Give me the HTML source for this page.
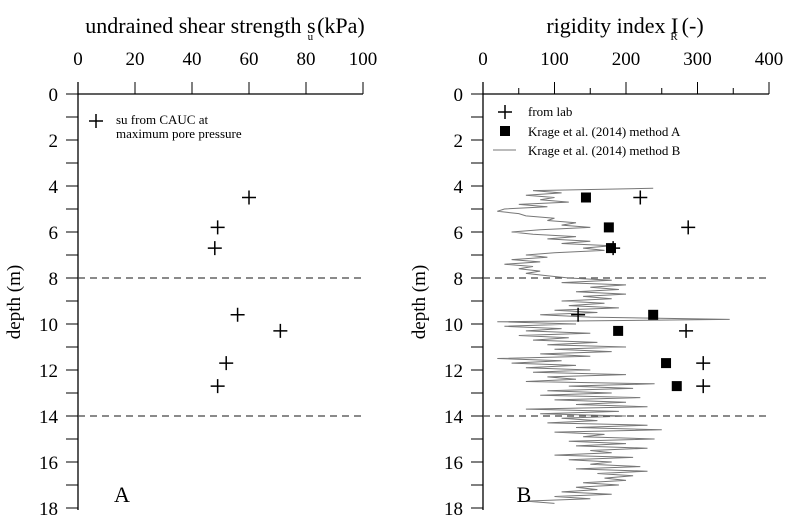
<!DOCTYPE html>
<html><head><meta charset="utf-8"><style>
body{margin:0;background:#fff}
svg, svg text{font-family:"Liberation Serif","Times New Roman",Times,"DejaVu Serif",serif}
</style></head><body>
<svg id="c" width="794" height="525" viewBox="0 0 794 525"></svg>
<script>
const suDepth=[4.5,5.8,6.7,9.6,10.3,11.7,12.7];
const suVal=[60,49,48,56,71,52,49];
const labDepth=[4.5,5.8,6.7,9.6,10.3,11.7,12.7];
const labVal=[220,287,182,133,284,308,308];
const aDepth=[4.5,5.8,6.7,9.6,10.3,11.7,12.7];
const aVal=[144,176,179,238,189,256,271];
const bStart=4.1, bStep=0.1;
const bVal=[238,70,110,60,100,80,120,50,90,
30,20,50,60,100,90,130,110,150,80,
40,70,130,90,150,110,180,140,170,100,
60,90,40,80,30,70,50,80,60,90,
120,180,110,200,150,190,130,200,140,180,
110,170,120,190,100,160,80,150,345,20,
130,30,110,60,150,50,120,70,160,90,
200,100,180,80,150,20,110,40,130,60,
150,70,200,90,130,60,240,120,210,90,
180,80,220,100,200,130,230,60,190,80,
200,110,160,90,230,130,250,100,170,140,
240,120,200,130,230,150,180,100,210,120,
180,150,220,130,230,160,210,170,200,140,
190,130,160,110,180,100,150,60,100];
const depthTicks=[0,2,4,6,8,10,12,14,16,18];
const suTicks=[0,20,40,60,80,100];
const irTicks=[0,100,200,300,400];
const dashDepths=[8,14];

const svg=document.getElementById('c');const NS='http://www.w3.org/2000/svg';
function mk(t,a,name,p){const e=document.createElementNS(NS,t);for(const k in a)e.setAttribute(k,a[k]);


(p||svg).appendChild(e);return e;}
function txt(s,x,y,size,anchor,name){const e=mk('text',{x:x,y:y,'font-size':size,'text-anchor':anchor||'middle'},name);e.textContent=s;return e;}
function title(x,main,sub,rest,name){const e=txt('',x,33,22,'middle',name);
  const a=document.createElementNS(NS,'tspan');a.textContent=main;e.appendChild(a);
  const b=document.createElementNS(NS,'tspan');b.setAttribute('font-size','11');b.setAttribute('dy','7');b.setAttribute('dx','-8');b.textContent=sub;e.appendChild(b);
  const c=document.createElementNS(NS,'tspan');c.setAttribute('dy','-7');c.setAttribute('dx','4');c.textContent=rest;e.appendChild(c);}
const y=d=>94+d*23;
function panel(x0,x1,max,ticks,minorStep,id){
  const sx=v=>x0+(x1-x0)*v/max;
  const g=mk('g',{},id+'-axes');
  mk('line',{x1:x0,y1:94,x2:x1,y2:94,stroke:'#000','stroke-width':1.3},'x-axis',g);
  mk('line',{x1:x0,y1:82,x2:x0,y2:510,stroke:'#000','stroke-width':1.3},'y-axis',g);
  ticks.forEach(t=>{mk('line',{x1:sx(t),y1:82,x2:sx(t),y2:94,stroke:'#000','stroke-width':1},'x-tick',g);
    txt(String(t),sx(t),65,19,'middle','x-tick-label');});
  if(minorStep)for(let v=minorStep;v<max;v+=2*minorStep)mk('line',{x1:sx(v),y1:88,x2:sx(v),y2:94,stroke:'#000','stroke-width':1},'x-minor-tick',g);
  for(let d=0;d<=18;d++)mk('line',{x1:x0-12,y1:y(d),x2:x0,y2:y(d),stroke:'#000','stroke-width':1},'y-tick',g);
  depthTicks.forEach(d=>txt(String(d),x0-20,y(d)+7,19,'end','y-tick-label'));
  dashDepths.forEach(d=>mk('line',{x1:x0,y1:y(d),x2:x1,y2:y(d),stroke:'#444','stroke-width':1.2,'stroke-dasharray':'7,5'},'layer-boundary',g));
  const t=txt('depth (m)',0,0,19,'middle','y-axis-title');t.setAttribute('transform',`translate(${x0-58},302) rotate(-90)`);
  return sx;
}
function plus(x,yy,name){mk('path',{d:`M${x-7},${yy}H${x+7}M${x},${yy-7}V${yy+7}`,stroke:'#000','stroke-width':1.5},name);}
function sq(x,yy,name){mk('rect',{x:x-5,y:yy-5,width:10,height:10,fill:'#000'},name);}
const sxA=panel(78,363,100,suTicks,0,'panel-a');
title(225,'undrained shear strength s','u','(kPa)','x-axis-title-a');
plus(96,121,'legend-plus');
txt('su from CAUC at',116,124,13,'start','legend-text');
txt('maximum pore pressure',116,138,13,'start','legend-text');
suDepth.forEach((d,i)=>plus(sxA(suVal[i]),y(d),'su-point'));
txt('A',122,502,22,'middle','panel-label-a');
const sxB=panel(483,769,400,irTicks,50,'panel-b');
title(625,'rigidity index I','R','(-)','x-axis-title-b');
let pts=bVal.map((v,i)=>sxB(v).toFixed(1)+','+y(bStart+i*bStep).toFixed(1)).join(' ');
mk('polyline',{points:pts,fill:'none',stroke:'#777','stroke-width':1},'method-b-line');
aDepth.forEach((d,i)=>sq(sxB(aVal[i]),y(d),'method-a-point'));
labDepth.forEach((d,i)=>plus(sxB(labVal[i]),y(d),'lab-point'));
plus(505,112,'legend-plus');txt('from lab',528,116,13,'start','legend-text');
sq(505,131,'legend-square');txt('Krage et al. (2014) method A',528,136,13,'start','legend-text');
mk('line',{x1:493,y1:150,x2:516,y2:150,stroke:'#777','stroke-width':1},'legend-line');
txt('Krage et al. (2014) method B',528,155,13,'start','legend-text');
txt('B',524,502,22,'middle','panel-label-b');
</script>
</body></html>
